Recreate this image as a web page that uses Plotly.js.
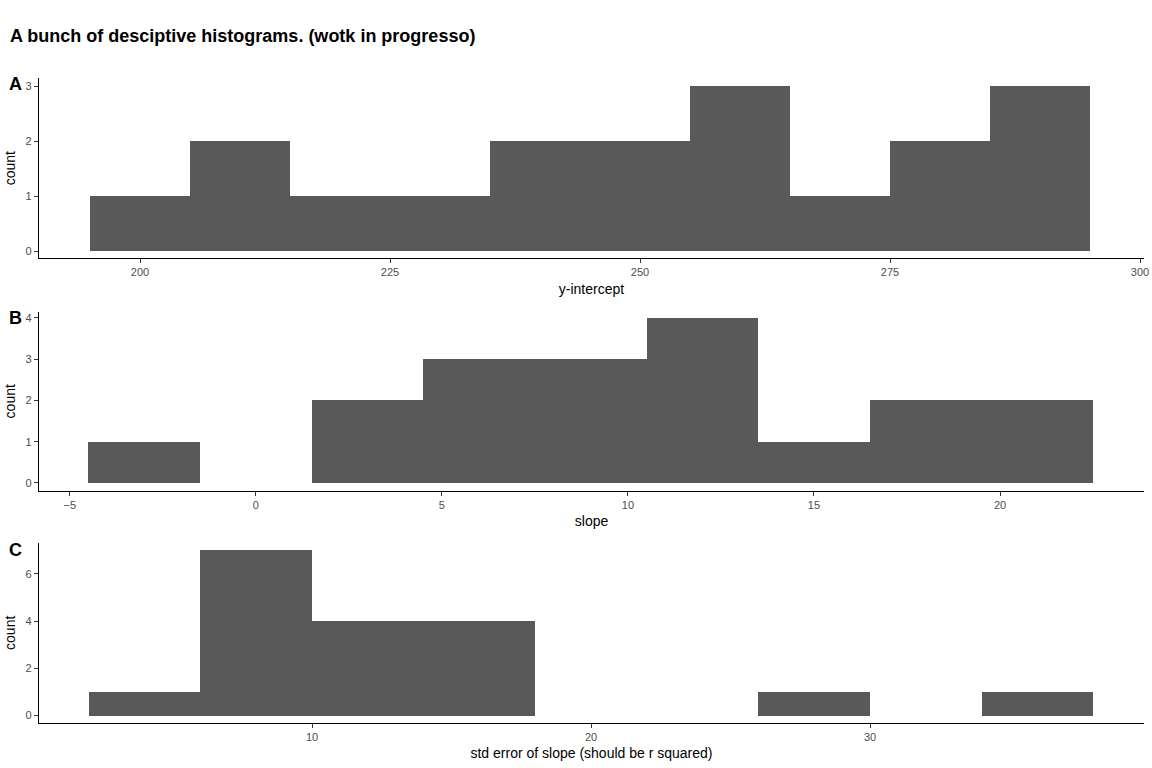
<!DOCTYPE html><html><head><script src="https://cdn.plot.ly/plotly-3.0.1.min.js"></script></head><body style="margin:0"><div id="c" style="width:1152px;height:768px"></div><script>
const aX=[200,210,220,230,240,250,260,270,280,290], aY=[1,2,1,1,2,2,3,1,2,3];
const bX=[-3,0,3,6,9,12,15,18,21], bY=[1,0,2,3,3,4,1,2,2];
const cX=[4,8,12,16,20,24,28,32,36], cY=[1,7,4,4,0,0,1,0,1];
const col='#595959';
function tr(x,y,w,ax,ay){return {type:'bar',x:x,y:y,width:w,marker:{color:col},xaxis:ax,yaxis:ay,hoverinfo:'none'};}
const xd=[39/1152,1144/1152];
function xa(range,dtick,title,anchor){return {domain:xd,range:range,dtick:dtick,anchor:anchor,showgrid:false,zeroline:false,showline:true,linecolor:'#000',linewidth:1.2,ticks:'outside',ticklen:4,tickcolor:'#333',tickfont:{family:'Liberation Sans',size:11,color:'#4d4d4d'},title:{text:title,font:{family:'Liberation Sans',size:14,color:'#000'},standoff:6}};}
function ya(range,dom,dtick,anchor){return {domain:dom,range:range,dtick:dtick,anchor:anchor,showgrid:false,zeroline:false,showline:true,linecolor:'#000',linewidth:1.2,ticks:'outside',ticklen:4,tickcolor:'#333',tickfont:{family:'Liberation Sans',size:11,color:'#4d4d4d'},title:{text:'count',font:{family:'Liberation Sans',size:14,color:'#000'},standoff:6}};}
const lt={family:'Liberation Sans',size:18,color:'#000'};
const layout={width:1152,height:768,margin:{l:0,r:0,t:0,b:0},showlegend:false,bargap:0,plot_bgcolor:'#fff',paper_bgcolor:'#fff',
title:{text:'<b>A bunch of desciptive histograms. (wotk in progresso)</b>',x:10/1152,xanchor:'left',y:1-36/768,yanchor:'middle',font:{family:'Liberation Sans',size:18,color:'#000'}},
xaxis:xa([189.9,300.4],25,'y-intercept','y'),yaxis:ya([-0.127,3.145],[0.664,0.898],1,'x'),
xaxis2:xa([-5.83,23.87],5,'slope','y2'),yaxis2:ya([-0.19,4.15],[0.361,0.594],1,'x2'),
xaxis3:xa([0.215,39.82],10,'std error of slope (should be r squared)','y3'),yaxis3:ya([-0.3,7.3],[0.059,0.293],2,'x3'),
annotations:[['A',84],['B',318],['C',550]].map(a=>({text:'<b>'+a[0]+'</b>',xref:'paper',yref:'paper',x:7/1152,y:1-a[1]/768,xanchor:'left',yanchor:'middle',showarrow:false,font:lt}))};
Plotly.newPlot('c',[tr(aX,aY,10,'x','y'),tr(bX,bY,3,'x2','y2'),tr(cX,cY,4,'x3','y3')],layout,{staticPlot:true});
</script></body></html>
